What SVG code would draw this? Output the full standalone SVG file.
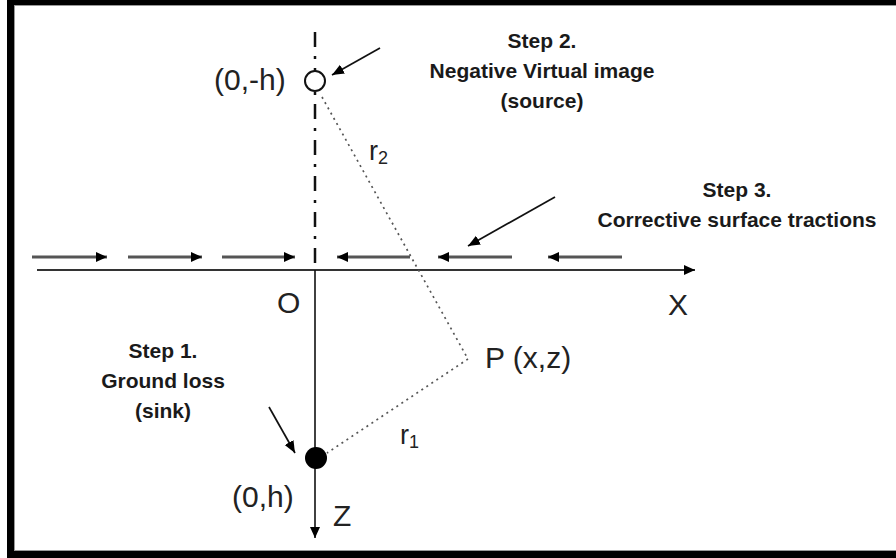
<svg xmlns="http://www.w3.org/2000/svg" width="896" height="558" viewBox="0 0 896 558">
<style>
.lbl{font-family:"Liberation Sans",Arial,sans-serif;font-size:30px;fill:#222}
.rr{font-family:"Liberation Sans",Arial,sans-serif;font-size:27px;fill:#222}
.sub{font-size:18px}
.step{font-family:"Liberation Sans",Arial,sans-serif;font-size:21px;font-weight:bold;fill:#1a1a1a;text-anchor:middle}
.trac{stroke:#555;stroke-width:3;fill:none}
.ptr{stroke:#111;stroke-width:1.7;fill:none}
.dot{stroke:#555;stroke-width:1.7;stroke-dasharray:2 4;fill:none}
</style>
<defs>
<marker id="ah" markerUnits="userSpaceOnUse" markerWidth="12" markerHeight="12" viewBox="0 0 12 12" refX="11" refY="6" orient="auto">
<path d="M0,1 L11,6 L0,11 Z" fill="#000"/>
</marker>
<marker id="ap" markerUnits="userSpaceOnUse" markerWidth="13" markerHeight="11" viewBox="0 0 13 11" refX="12" refY="5.5" orient="auto">
<path d="M0,0.5 L12,5.5 L0,10.5 Z" fill="#000"/>
</marker>
</defs>
<rect x="0" y="0" width="896" height="558" fill="#fff"/>
<g id="frame">
<rect x="7" y="0" width="889" height="5" fill="#000"/>
<rect x="7" y="0" width="7" height="558" fill="#000"/>
<rect x="7" y="551" width="889" height="7" fill="#000"/>
<line x1="14" y1="5.5" x2="896" y2="5.5" stroke="#999" stroke-width="1"/>
<line x1="14.5" y1="5" x2="14.5" y2="551" stroke="#999" stroke-width="1"/>
<line x1="14" y1="550.5" x2="896" y2="550.5" stroke="#999" stroke-width="1"/>
</g>
<g id="connectors">
<line id="x-axis" x1="37" y1="270" x2="695" y2="270" stroke="#333" stroke-width="2" marker-end="url(#ah)"/>
<line id="z-axis" x1="315" y1="270" x2="315" y2="538" stroke="#111" stroke-width="1.6" marker-end="url(#ah)"/>
<line id="sym-axis" x1="315" y1="32" x2="315" y2="270" stroke="#111" stroke-width="2.5" stroke-dasharray="15 9 3 9"/>
<line class="dot" x1="322" y1="97" x2="468" y2="359"/>
<line class="dot" x1="468" y1="359" x2="327" y2="453"/>
<line class="trac" x1="32" y1="257" x2="107" y2="257" marker-end="url(#ah)"/>
<line class="trac" x1="128" y1="257" x2="202" y2="257" marker-end="url(#ah)"/>
<line class="trac" x1="222" y1="257" x2="295" y2="257" stroke="#222" stroke-width="2" marker-end="url(#ah)"/>
<line class="trac" x1="410" y1="257" x2="337" y2="257" marker-end="url(#ah)"/>
<line class="trac" x1="512" y1="257" x2="438" y2="257" marker-end="url(#ah)"/>
<line class="trac" x1="622" y1="257" x2="548" y2="257" marker-end="url(#ah)"/>
<line class="ptr" x1="380" y1="48" x2="332" y2="75" marker-end="url(#ap)"/>
<line class="ptr" x1="555" y1="197" x2="468" y2="246" marker-end="url(#ap)"/>
<line class="ptr" x1="269" y1="407" x2="295" y2="453" marker-end="url(#ap)"/>
</g>
<g id="source">
<circle cx="315" cy="81" r="10" fill="#fff" stroke="#111" stroke-width="2"/>
<text class="lbl" x="214" y="90">(0,-h)</text>
</g>
<g id="sink">
<circle cx="316" cy="458" r="11" fill="#000"/>
<text class="lbl" x="232" y="507">(0,h)</text>
</g>
<g id="point-P">
<text class="lbl" x="485" y="368">P (x,z)</text>
</g>
<g id="labels">
<text class="lbl" x="277" y="313">O</text>
<text class="lbl" x="668" y="315">X</text>
<text class="lbl" x="333" y="526">Z</text>
<text class="rr" x="369" y="160">r<tspan class="sub" dy="4">2</tspan></text>
<text class="rr" x="400" y="444">r<tspan class="sub" dy="4">1</tspan></text>
</g>
<g id="step1">
<text class="step" x="163" y="358">Step 1.</text>
<text class="step" x="163" y="388">Ground loss</text>
<text class="step" x="163" y="418">(sink)</text>
</g>
<g id="step2">
<text class="step" x="542" y="48">Step 2.</text>
<text class="step" x="542" y="78">Negative Virtual image</text>
<text class="step" x="542" y="108">(source)</text>
</g>
<g id="step3">
<text class="step" x="737" y="197">Step 3.</text>
<text class="step" x="737" y="227">Corrective surface tractions</text>
</g>
</svg>
